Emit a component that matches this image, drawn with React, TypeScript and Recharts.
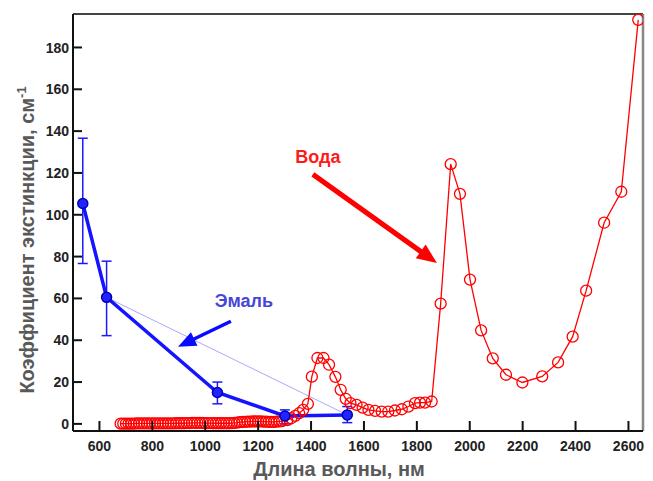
import React from 'react';
import { LineChart, Line, XAxis, YAxis, ErrorBar, ReferenceLine, ReferenceDot } from 'recharts';

// water absorption, nm -> cm^-1
const waterWavelength = [
  680, 690, 700, 710, 720, 730, 740, 750, 760, 770, 780, 790, 800, 810, 820, 830, 840, 850, 860, 870,
  880, 890, 900, 910, 920, 930, 940, 950, 960, 970, 980, 990, 1000, 1010, 1020, 1030, 1040, 1050, 1060, 1070,
  1080, 1090, 1100, 1110, 1120, 1130, 1140, 1150, 1160, 1170, 1180, 1190, 1200, 1210, 1220, 1230, 1240, 1250,
  1260, 1270, 1280, 1290, 1310, 1325, 1340, 1355, 1370, 1388, 1403, 1424, 1447, 1468, 1492, 1512, 1531, 1549,
  1572, 1595, 1617, 1642, 1667, 1692, 1717, 1743, 1768, 1793, 1812, 1831, 1856, 1890, 1928, 1963, 2001, 2043,
  2087, 2137, 2199, 2274, 2334, 2389, 2440, 2508, 2573, 2637
];
const waterCoef = [
  0.1, 0.1, 0.1, 0.1, 0.1, 0.1, 0.2, 0.2, 0.2, 0.2, 0.2, 0.2, 0.2, 0.2, 0.2, 0.2, 0.2, 0.2, 0.2, 0.2,
  0.2, 0.3, 0.3, 0.3, 0.3, 0.4, 0.4, 0.5, 0.5, 0.5, 0.5, 0.5, 0.4, 0.4, 0.4, 0.3, 0.3, 0.3, 0.3, 0.3,
  0.3, 0.3, 0.4, 0.5, 0.6, 0.8, 0.9, 1.0, 1.1, 1.1, 1.2, 1.2, 1.2, 1.2, 1.1, 1.1, 1.0, 1.0,
  1.0, 1.1, 1.2, 1.3, 1.8, 2.7, 3.8, 5.1, 6.7, 9.6, 22.6, 31.5, 31.5, 28.3, 22.5, 16.3, 12, 9.9,
  9.1, 7.8, 6.7, 6.2, 5.9, 5.9, 6.4, 7, 8.3, 9.9, 10.2, 10.2, 10.7, 57.5, 124.2, 110, 69, 44.7,
  31.3, 23.5, 19.8, 22.7, 29.4, 41.7, 63.7, 96.2, 111, 193.2
];

// enamel with error bars
const enamelWavelength = [537, 627, 1046, 1301, 1537];
const enamelCoef = [105.4, 60.5, 15, 3.8, 4.3];
const enamelLow = [76.7, 42.2, 9.6, 0, 0.6];
const enamelHigh = [136.6, 77.8, 20, 6.7, 8.3];

const trendWavelength = [627, 1537];
const trendCoef = [60.5, 4.3];

const xTicks = [600, 800, 1000, 1200, 1400, 1600, 1800, 2000, 2200, 2400, 2600];
const yTicks = [0, 20, 40, 60, 80, 100, 120, 140, 160, 180];

const X_DOMAIN = [500, 2655];
const Y_DOMAIN = [-3.4, 196];

const waterData = waterWavelength.map((x, i) => ({ x, y: waterCoef[i] }));
const enamelData = enamelWavelength.map((x, i) => ({
  x,
  y: enamelCoef[i],
  err: [enamelCoef[i] - enamelLow[i], enamelHigh[i] - enamelCoef[i]]
}));
const trendData = trendWavelength.map((x, i) => ({ x, y: trendCoef[i] }));

const font = '"Liberation Sans", Arial, sans-serif';

const YTick = ({ x, y, payload }: any) => (
  <g>
    <line x1={x} x2={x + 9} y1={y} y2={y} stroke="#111" strokeWidth={2} />
    <text x={x - 4} y={y} dy="0.36em" textAnchor="end" fontSize={14} fontWeight="bold" fill="#222" fontFamily={font}>
      {payload.value}
    </text>
  </g>
);

const XTick = ({ x, y, payload }: any) => (
  <g>
    <line x1={x} x2={x} y1={y} y2={y - 10} stroke="#111" strokeWidth={2} />
    <text x={x} y={y + 15} dy="0.36em" textAnchor="middle" fontSize={14} fontWeight="bold" fill="#222" fontFamily={font}>
      {payload.value}
    </text>
  </g>
);

const arrow = (color: string, width: number, headLen: number, headW: number) => (p: any) => {
  const { x1, y1, x2, y2 } = p;
  const dx = x2 - x1;
  const dy = y2 - y1;
  const len = Math.sqrt(dx * dx + dy * dy);
  const ux = dx / len;
  const uy = dy / len;
  const bx = x2 - ux * headLen;
  const by = y2 - uy * headLen;
  const pts = `${x2},${y2} ${bx - uy * headW / 2},${by + ux * headW / 2} ${bx + uy * headW / 2},${by - ux * headW / 2}`;
  return (
    <g>
      <line x1={x1} y1={y1} x2={bx + ux * 2} y2={by + uy * 2} stroke={color} strokeWidth={width} />
      <polygon points={pts} fill={color} />
    </g>
  );
};

const label = (text: string, color: string) => (p: any) => (
  <text x={p.cx} y={p.cy} dy="0.36em" textAnchor="middle" fontSize={18} fontWeight="bold" fill={color} fontFamily={font}>
    {text}
  </text>
);

export default function App() {
  return (
    <div style={{ position: 'fixed', left: 0, top: 0, background: '#fff' }}>
      <LineChart
        width={653}
        height={481}
        margin={{ top: 14, right: 10, bottom: 20, left: 13 }}
        style={{ fontFamily: font }}
      >
        <XAxis
          type="number"
          dataKey="x"
          domain={X_DOMAIN}
          ticks={xTicks}
          allowDataOverflow
          height={30}
          tickSize={0}
          tickMargin={0}
          tickLine={false}
          tick={<XTick />}
          axisLine={{ stroke: '#111', strokeWidth: 2 }}
          label={{
            content: () => (
              <text x={339} y={469} dy="0.36em" textAnchor="middle" fontSize={20} fontWeight="bold" fill="#595959" fontFamily={font}>
                Длина волны, нм
              </text>
            )
          }}
        />
        <YAxis
          type="number"
          domain={Y_DOMAIN}
          ticks={yTicks}
          allowDataOverflow
          width={60}
          tickSize={0}
          tickMargin={0}
          tickLine={false}
          tick={<YTick />}
          axisLine={{ stroke: '#111', strokeWidth: 2 }}
          label={{
            content: () => (
              <text
                x={27}
                y={240}
                dy="0.36em"
                textAnchor="middle"
                transform="rotate(-90 27 240)"
                fontSize={20}
                fontWeight="bold"
                fill="#595959"
                fontFamily={font}
              >
                Коэффициент экстинкции, см
                <tspan dy={-8} fontSize={13}>-1</tspan>
              </text>
            )
          }}
        />
        <ReferenceLine y={196} stroke="#444" strokeWidth={2} />
        <ReferenceLine x={2655} stroke="#888" strokeWidth={2.5} />

        <Line
          data={trendData}
          dataKey="y"
          stroke="#a8a8ff"
          strokeWidth={1}
          dot={false}
          isAnimationActive={false}
        />
        <Line
          data={waterData}
          dataKey="y"
          type="linear"
          stroke="#ff0000"
          strokeWidth={1.3}
          dot={{ r: 5.5, fill: 'none', stroke: '#ff0000', strokeWidth: 1.3 }}
          isAnimationActive={false}
        />
        <Line
          data={enamelData}
          dataKey="y"
          type="linear"
          stroke="#1414ff"
          strokeWidth={3.5}
          dot={{ r: 5, fill: '#2323ff', stroke: '#0000b4', strokeWidth: 1.5 }}
          isAnimationActive={false}
        >
          <ErrorBar dataKey="err" direction="y" width={5} strokeWidth={1.5} stroke="#1a1aff" />
        </Line>

        <ReferenceLine
          segment={[{ x: 1407, y: 119.3 }, { x: 1876, y: 76.9 }]}
          shape={arrow('#ff0000', 5, 20, 17)}
        />
        <ReferenceLine
          segment={[{ x: 1097, y: 49.1 }, { x: 897, y: 36.9 }]}
          shape={arrow('#0a0aff', 3.5, 18, 15)}
        />
        <ReferenceDot x={1426} y={127.9} r={0} shape={label('Вода', '#ff1a1a')} />
        <ReferenceDot x={1146} y={58.9} r={0} shape={label('Эмаль', '#4646d8')} />
      </LineChart>
    </div>
  );
}
